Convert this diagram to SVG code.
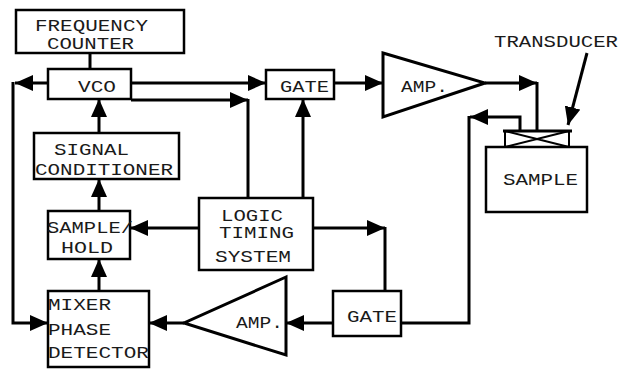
<svg xmlns="http://www.w3.org/2000/svg" width="625" height="370" viewBox="0 0 625 370">
<style>
.box{fill:#fff;stroke:#000;stroke-width:2.5}
.amp{fill:#fff;stroke:#000;stroke-width:3;stroke-linejoin:miter}
.ln{fill:none;stroke:#000;stroke-width:3}
.ar{fill:none;stroke:#000;stroke-width:3;marker-end:url(#ah)}
text{font-family:"Liberation Mono","DejaVu Sans Mono",monospace;font-size:17px;fill:#1a1a1a}
</style>
<defs>
<marker id="ah" viewBox="0 0 18 16" refX="18" refY="8" markerWidth="18" markerHeight="16" markerUnits="userSpaceOnUse" orient="auto">
<path d="M0,0 L18,8 L0,16 Z" fill="#000"/>
</marker>
</defs>
<g id="connectors">
<path class="ln" d="M90,53 V69"/>
<path class="ar" d="M48,83 H15"/>
<path class="ar" d="M13,82 V323 H48"/>
<path class="ar" d="M131,83 H266"/>
<path class="ar" d="M131,100 H248"/>
<path class="ln" d="M248,99 V198"/>
<path class="ar" d="M303,198 V99"/>
<path class="ar" d="M99,133 V99"/>
<path class="ar" d="M99,211 V179"/>
<path class="ar" d="M99,291 V259"/>
<path class="ar" d="M199,228 H130"/>
<path class="ar" d="M313,228 H385"/>
<path class="ln" d="M385,227 V291"/>
<path class="ar" d="M334,83 H383"/>
<path class="ar" d="M485,83 H537"/>
<path class="ln" d="M537,82 V131"/>
<path class="ar" d="M520,131 V117 H470"/>
<path class="ln" d="M469,116 V323 H401"/>
<path class="ar" d="M333,323 H286"/>
<path class="ar" d="M184,323 H149"/>
<path class="ar" d="M587,53 L568,125"/>
</g>
<g id="freq-counter">
<rect class="box" x="16" y="10" width="168" height="43"/>
<text x="35" y="31" textLength="113" lengthAdjust="spacingAndGlyphs">FREQUENCY</text>
<text x="47" y="49" textLength="87" lengthAdjust="spacingAndGlyphs">COUNTER</text>
</g>
<g id="vco">
<rect class="box" x="48" y="69" width="83" height="30"/>
<text x="78" y="92" textLength="38" lengthAdjust="spacingAndGlyphs">VCO</text>
</g>
<g id="gate-top">
<rect class="box" x="266" y="70" width="68" height="29"/>
<text x="280" y="92" textLength="49" lengthAdjust="spacingAndGlyphs">GATE</text>
</g>
<g id="amp-top">
<path class="amp" d="M383,53 L485,83 L383,117 Z"/>
<text x="401" y="92" textLength="47" lengthAdjust="spacingAndGlyphs">AMP.</text>
</g>
<g id="transducer">
<path class="ln" d="M503,131 H572"/>
<path fill="none" stroke="#000" stroke-width="2" d="M505,131 H569 V147 H505 Z M505,131 L569,147 M569,131 L505,147"/>
<text x="494" y="47" textLength="124" lengthAdjust="spacingAndGlyphs">TRANSDUCER</text>
</g>
<g id="sample">
<rect class="box" x="486" y="147" width="101" height="65"/>
<text x="503" y="185" textLength="75" lengthAdjust="spacingAndGlyphs">SAMPLE</text>
</g>
<g id="signal-conditioner">
<rect class="box" x="34" y="133" width="145" height="46"/>
<text x="54" y="155" textLength="75" lengthAdjust="spacingAndGlyphs">SIGNAL</text>
<text x="35" y="175" textLength="138" lengthAdjust="spacingAndGlyphs">CONDITIONER</text>
</g>
<g id="sample-hold">
<rect class="box" x="48" y="211" width="82" height="48"/>
<text x="47" y="233" textLength="86" lengthAdjust="spacingAndGlyphs">SAMPLE/</text>
<text x="61" y="253" textLength="52" lengthAdjust="spacingAndGlyphs">HOLD</text>
</g>
<g id="logic">
<rect class="box" x="199" y="198" width="114" height="72"/>
<text x="221" y="221" textLength="62" lengthAdjust="spacingAndGlyphs">LOGIC</text>
<text x="219" y="238" textLength="75" lengthAdjust="spacingAndGlyphs">TIMING</text>
<text x="215" y="262" textLength="76" lengthAdjust="spacingAndGlyphs">SYSTEM</text>
</g>
<g id="mixer">
<rect class="box" x="48" y="291" width="101" height="76"/>
<text x="48" y="310" textLength="63" lengthAdjust="spacingAndGlyphs">MIXER</text>
<text x="48" y="335" textLength="63" lengthAdjust="spacingAndGlyphs">PHASE</text>
<text x="48" y="358" textLength="101" lengthAdjust="spacingAndGlyphs">DETECTOR</text>
</g>
<g id="amp-bottom">
<path class="amp" d="M286,277 L184,323 L286,355 Z"/>
<text x="236" y="328" textLength="47" lengthAdjust="spacingAndGlyphs">AMP.</text>
</g>
<g id="gate-bottom">
<rect class="box" x="333" y="291" width="68" height="45"/>
<text x="347" y="322" textLength="50" lengthAdjust="spacingAndGlyphs">GATE</text>
</g>
</svg>
